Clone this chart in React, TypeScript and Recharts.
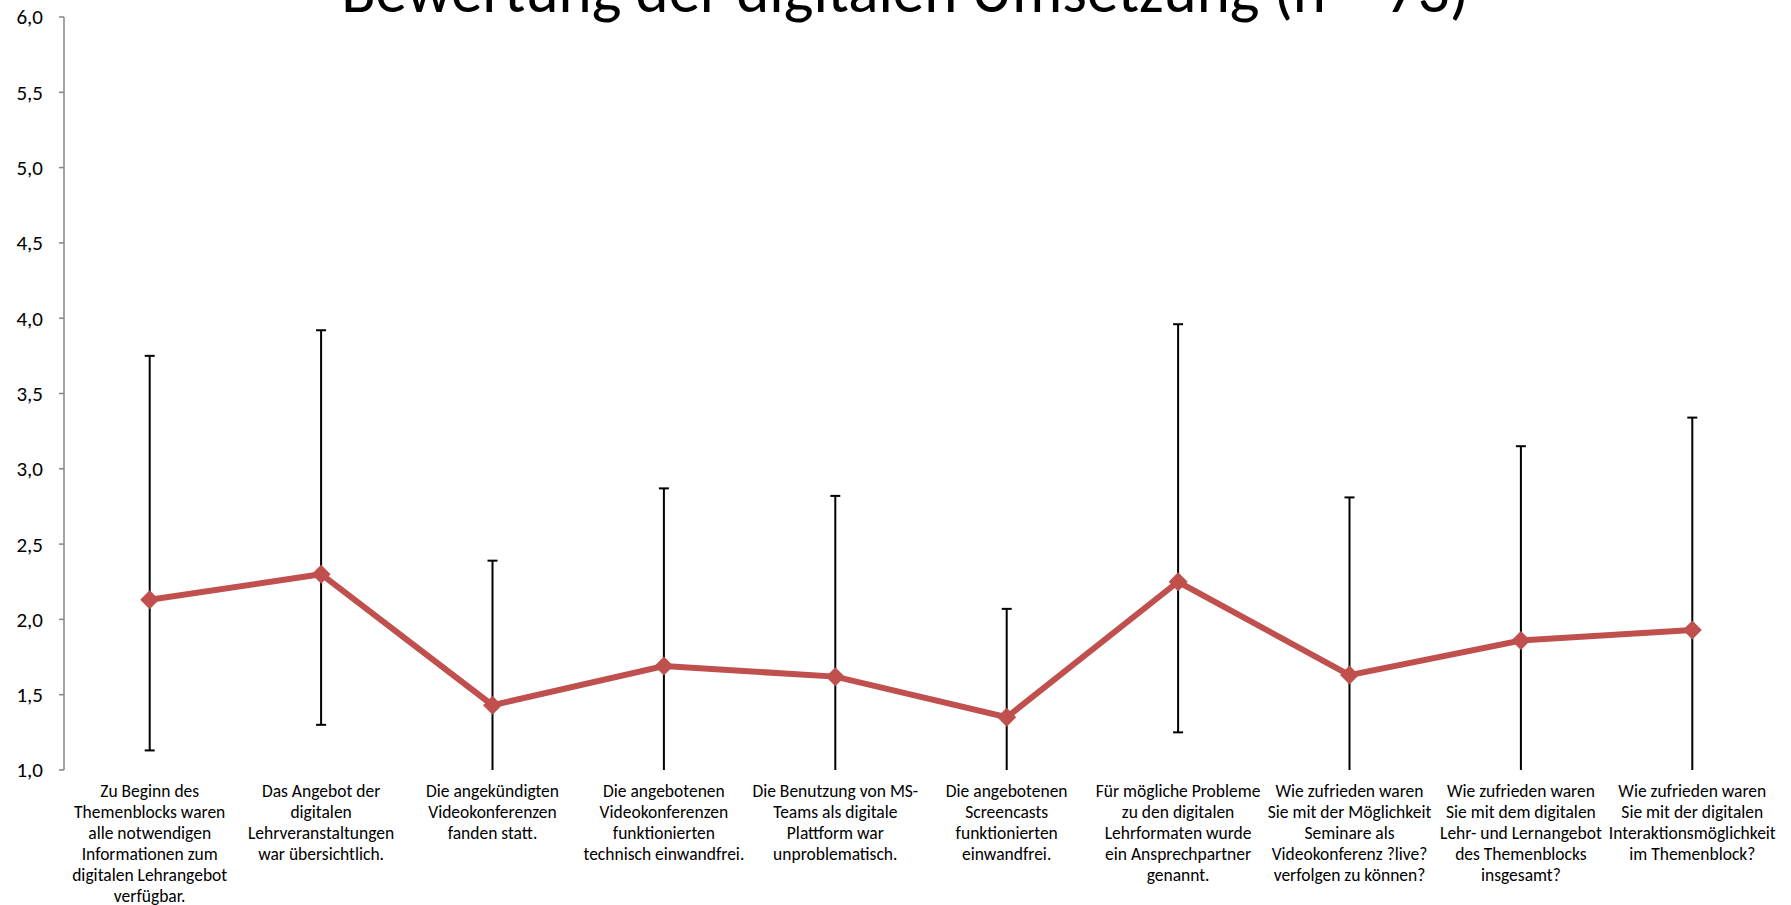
import { LineChart, Line, XAxis, YAxis, ErrorBar } from 'recharts';

const title = 'Bewertung der digitalen Umsetzung (n = 73)';

const categories = [
   'Zu Beginn des\nThemenblocks waren\nalle notwendigen\nInformationen zum\ndigitalen Lehrangebot\nverfügbar.',
   'Das Angebot der\ndigitalen\nLehrveranstaltungen\nwar übersichtlich.',
   'Die angekündigten\nVideokonferenzen\nfanden statt.',
   'Die angebotenen\nVideokonferenzen\nfunktionierten\ntechnisch einwandfrei.',
   'Die Benutzung von MS-\nTeams als digitale\nPlattform war\nunproblematisch.',
   'Die angebotenen\nScreencasts\nfunktionierten\neinwandfrei.',
   'Für mögliche Probleme\nzu den digitalen\nLehrformaten wurde\nein Ansprechpartner\ngenannt.',
   'Wie zufrieden waren\nSie mit der Möglichkeit\nSeminare als\nVideokonferenz ?live?\nverfolgen zu können?',
   'Wie zufrieden waren\nSie mit dem digitalen\nLehr- und Lernangebot\ndes Themenblocks\ninsgesamt?',
   'Wie zufrieden waren\nSie mit der digitalen\nInteraktionsmöglichkeit\nim Themenblock?',
];

const means = [2.13, 2.30, 1.43, 1.69, 1.62, 1.35, 2.25, 1.63, 1.86, 1.93];
const upper = [3.75, 3.92, 2.39, 2.87, 2.82, 2.07, 3.96, 2.81, 3.15, 3.34];
const lower = [1.13, 1.30, 0.43, 0.69, 0.62, 0.35, 1.25, 0.63, 0.86, 0.93];

const yTicks = [1, 1.5, 2, 2.5, 3, 3.5, 4, 4.5, 5, 5.5, 6];
const edgeTicks = [0, 1, 2, 3, 4, 5, 6, 7, 8, 9, 10];

const data = categories.map((c, i) => ({
   label: c,
   idx: i,
   mean: means[i],
   err: [means[i] - lower[i], upper[i] - means[i]],
}));

const FONT = 'Carlito, Calibri, "Liberation Sans Narrow", Lato, sans-serif';
const RED = '#C0504D';
const AXIS = '#868686';

// plot area (matches chart margins + axis sizes below)
const PLOT = { x: 64, y: 17, w: 1714, h: 753 };

function CategoryTick(props: any) {
   const { x, y, payload } = props;
   const lines = String(payload.value).split('\n');
   return (
      <text x={x} y={y} textAnchor="middle" fontFamily={FONT} fontSize={17.5} fill="#000">
         {lines.map((l, i) => (
            <tspan key={i} x={x} dy={i === 0 ? 19 : 21}>{l}</tspan>
         ))}
      </text>
   );
}

function Diamond(props: any) {
   const { cx, cy } = props;
   if (cx == null || cy == null) return null;
   const r = 9.5;
   return <polygon points={`${cx},${cy - r} ${cx + r},${cy} ${cx},${cy + r} ${cx - r},${cy}`} fill={RED} />;
}

export default function App() {
   return (
      <div style={{ position: 'relative', width: 1791, height: 905, background: '#fff' }}>
         <style>{'body{margin:0} .recharts-errorBars, .recharts-errorBar{clip-path:url(#plotClip)}'}</style>
         <svg width={0} height={0} style={{ position: 'absolute' }}>
            <defs>
               <clipPath id="plotClip" clipPathUnits="userSpaceOnUse">
                  <rect x={PLOT.x} y={PLOT.y - 10} width={PLOT.w} height={PLOT.h + 10} />
               </clipPath>
            </defs>
         </svg>
         <LineChart width={1791} height={905} data={data} margin={{ top: 17, right: 13, bottom: 0, left: 0 }}>
            <XAxis
               xAxisId="edges"
               type="number"
               dataKey="idx"
               domain={[0, 10]}
               ticks={edgeTicks}
               allowDataOverflow
               height={0}
               tick={false}
               tickSize={5}
               axisLine={{ stroke: AXIS, strokeWidth: 1.5 }}
               tickLine={{ stroke: AXIS, strokeWidth: 1.5 }}
            />
            <XAxis
               dataKey="label"
               scale="band"
               interval={0}
               height={135}
               axisLine={false}
               tickLine={false}
               tick={<CategoryTick />}
            />
            <YAxis
               domain={[1, 6]}
               ticks={yTicks}
               allowDataOverflow
               width={64}
               tickSize={5}
               tickMargin={16}
               tickFormatter={(v: number) => v.toFixed(1).replace('.', ',')}
               tick={{ fontFamily: FONT, fontSize: 21, fill: '#000' }}
               axisLine={{ stroke: AXIS, strokeWidth: 1.5 }}
               tickLine={{ stroke: AXIS, strokeWidth: 1.5 }}
            />
            <Line
               dataKey="mean"
               stroke={RED}
               strokeWidth={6}
               dot={<Diamond />}
               activeDot={false}
               isAnimationActive={false}
            >
               <ErrorBar dataKey="err" direction="y" width={5} stroke="#000" strokeWidth={2} />
            </Line>
         </LineChart>
         <svg width={1791} height={60} style={{ position: 'absolute', left: 0, top: 0, pointerEvents: 'none' }}>
            <text x={905} y={12} textAnchor="middle" fontFamily={FONT} fontSize={63} fill="#000">{title}</text>
         </svg>
      </div>
   );
}
